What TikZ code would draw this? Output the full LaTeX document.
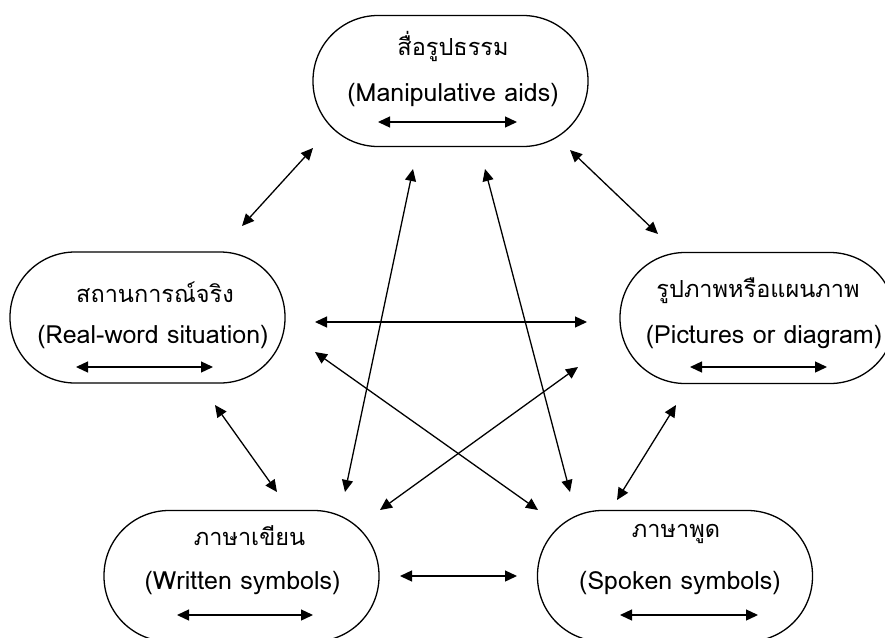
\documentclass[tikz,border=0pt]{standalone}
\usepackage{fontspec}
\newfontfamily\thaifont[Script=Thai]{Loma}
\usetikzlibrary{arrows.meta}
\begin{document}
\begin{tikzpicture}[x=1pt,y=-1pt,
  box/.style={draw, line width=1.3pt, rounded corners=65pt, minimum width=275pt, minimum height=131pt, inner sep=0pt},
  thtxt/.style={font=\thaifont\fontsize{23.5}{25}\selectfont, inner sep=0pt},
  entxt/.style={font=\thaifont\fontsize{25}{27}\selectfont, inner sep=0pt},
  link/.style={line width=1.3pt, {Triangle[length=12pt,width=11pt]}-{Triangle[length=12pt,width=11pt]}},
]
\useasboundingbox (0,0) rectangle (885,637);
\begin{scope}
\clip (0,0) rectangle (885,637);
% boxes
\node[box] (top) at (450.5,81) {};
\node[box] (left) at (147.5,317.5) {};
\node[box] (right) at (757.5,318) {};
\node[box] (bl) at (241.5,576) {};
\node[box] (br) at (675,576) {};
% texts
\node[thtxt] (topth) at (453,46) {สื่อรูปธรรม};
\node[entxt] (topen) at (453,95) {(Manipulative aids)};
\node[thtxt] (leftth) at (155,292) {สถานการณ์จริง};
\node[entxt] (leften) at (153,337) {(Real-word situation)};
\node[thtxt] (rightth) at (758,291) {รูปภาพหรือแผนภาพ};
\node[entxt] (righten) at (764,337) {(Pictures or diagram)};
\node[thtxt] (blth) at (249.5,536) {ภาษาเขียน};
\node[entxt] (blen) at (242.5,583) {(Written symbols)};
\node[thtxt] (brth) at (676,534) {ภาษาพูด};
\node[entxt] (bren) at (680,583) {(Spoken symbols)};
% inner arrows
\coordinate (ti1) at (378,122); \coordinate (ti2) at (517,122);
\coordinate (li1) at (76,367);  \coordinate (li2) at (213,367);
\coordinate (ri1) at (690,367); \coordinate (ri2) at (827,367);
\coordinate (bli1) at (177,615); \coordinate (bli2) at (313,615);
\coordinate (bri1) at (620,615); \coordinate (bri2) at (758,615);
\draw[link] (ti1) -- (ti2);
\draw[link] (li1) -- (li2);
\draw[link] (ri1) -- (ri2);
\draw[link] (bli1) -- (bli2);
\draw[link] (bri1) -- (bri2);
% connectors
\coordinate (a1) at (313,148); \coordinate (b1) at (242,226);
\coordinate (a2) at (570,150); \coordinate (b2) at (658,234);
\coordinate (a3) at (315,322); \coordinate (b3) at (587,322);
\coordinate (a4) at (315,352); \coordinate (b4) at (538,510);
\coordinate (a5) at (578,367); \coordinate (b5) at (380,510);
\coordinate (a6) at (215,405); \coordinate (b6) at (277,492);
\coordinate (a7) at (413,169); \coordinate (b7) at (345,492);
\coordinate (a8) at (485,169); \coordinate (b8) at (570,492);
\coordinate (a9) at (676,405); \coordinate (b9) at (617,500);
\coordinate (a10) at (400,576); \coordinate (b10) at (517,576);
\foreach \i in {1,...,10} {\draw[link] (a\i) -- (b\i);}
\end{scope}
\end{tikzpicture}
\end{document}
